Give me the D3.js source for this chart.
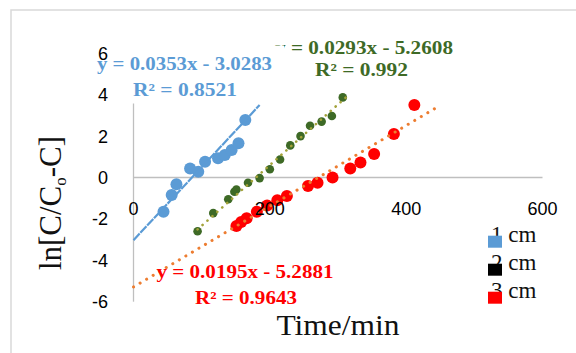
<!DOCTYPE html>
<html>
<head>
<meta charset="utf-8">
<script src="https://cdn.jsdelivr.net/npm/d3@7"></script>
<style>
  html, body { margin: 0; padding: 0; background: #fff; }
  svg { display: block; }
</style>
</head>
<body>
<svg id="chart" width="576" height="353"></svg>
<script>
// Series: time (min) vs ln[C/(Co-C)] for three bed depths
const seriesNames = ["1 cm", "2 cm", "3 cm"];

const t1 = [44, 56, 63, 83, 95, 105, 124, 134, 144, 154, 164];
const v1 = [-1.65, -0.85, -0.33, 0.44, 0.28, 0.76, 0.93, 1.09, 1.33, 1.65, 2.78];

const t2 = [94, 117, 139, 148, 151, 168, 185, 200, 215, 230, 245, 259, 276, 291, 307];
const v2 = [-2.6, -1.72, -1.05, -0.69, -0.58, -0.25, -0.03, 0.4, 0.87, 1.55, 2.0, 2.5, 2.7, 2.97, 3.87];

const t3 = [151, 158, 166, 181, 196, 211, 225, 256, 270, 292, 318, 333, 353, 382, 412];
const v3 = [-2.34, -2.15, -1.97, -1.65, -1.35, -1.1, -0.89, -0.41, -0.25, 0.0, 0.44, 0.72, 1.14, 2.1, 3.5];

// Linear fits: slope, intercept, R², and the x-span each trendline covers
const slopes = [0.0353, 0.0293, 0.0195];
const intercepts = [-3.0283, -5.2608, -5.2881];
const r2 = ["0.8521", "0.992", "0.9643"];
const fitFrom = [0, 94, 0];
const fitTo = [185, 312, 443];

const xTicks = [0, 200, 400, 600];
const yTicks = [-6, -4, -2, 0, 2, 4, 6];

const svg = d3.select("#chart");
const x = d3.scaleLinear().domain([0, 600]).range([133.5, 542.5]);
const y = d3.scaleLinear().domain([-6, 6]).range([301.7, 53.3]);

// chart frame
svg.append("rect").attr("x", 11).attr("y", 10).attr("width", 600).attr("height", 400)
  .attr("fill", "none").attr("stroke", "#d9d9d9").attr("stroke-width", 1.5);

// axis lines
svg.append("line").attr("x1", x(0)).attr("x2", x(600)).attr("y1", y(0)).attr("y2", y(0))
  .attr("stroke", "#bfbfbf").attr("stroke-width", 1.3);
svg.append("line").attr("x1", x(0)).attr("x2", x(0)).attr("y1", y(-6)).attr("y2", y(6))
  .attr("stroke", "#bfbfbf").attr("stroke-width", 1.3);

const markerStyles = [
  { fill: "#5b9bd5", r: 6 },
  { fill: "#3e6a26", r: 4.3 },
  { fill: "#ff0000", r: 6 }
];
const fitStyles = [
  { stroke: "#5b9bd5", width: 2.2, dash: "9,1", cap: "butt" },
  { stroke: "#a3a23a", width: 2.6, dash: "0.1,6.5", cap: "round" },
  { stroke: "#ed7d31", width: 3, dash: "0.1,7.5", cap: "round" }
];
const allT = [t1, t2, t3];
const allV = [v1, v2, v3];

allT.forEach((ts, i) => {
  const pts = ts.map((t, k) => [t, allV[i][k]]);
  svg.append("g").selectAll("circle").data(pts).join("circle")
    .attr("cx", d => x(d[0])).attr("cy", d => y(d[1]))
    .attr("r", markerStyles[i].r).attr("fill", markerStyles[i].fill);
});

allT.forEach((ts, i) => {
  const f = fitStyles[i];
  const line = d3.line().x(d => x(d)).y(d => y(slopes[i] * d + intercepts[i]));
  svg.append("path").datum([fitFrom[i], fitTo[i]]).attr("d", line)
    .attr("fill", "none").attr("stroke", f.stroke).attr("stroke-width", f.width)
    .attr("stroke-dasharray", f.dash).attr("stroke-linecap", f.cap);
});

// trendline equations
function eqText(i) {
  const b = intercepts[i];
  return "y = " + slopes[i].toFixed(4) + "x " + (b < 0 ? "- " : "+ ") + Math.abs(b).toFixed(4);
}
const eqFont = "'Liberation Serif', 'Times New Roman', serif";
function eqLabel(i, color, ex, ey, ew, rx, ry, rw) {
  const g = svg.append("g").attr("font-family", eqFont).attr("font-weight", "bold")
    .attr("font-size", 18).attr("fill", color);
  g.append("text").attr("x", ex).attr("y", ey).attr("textLength", ew)
    .attr("lengthAdjust", "spacingAndGlyphs").text(eqText(i));
  g.append("text").attr("x", rx).attr("y", ry).attr("textLength", rw)
    .attr("lengthAdjust", "spacingAndGlyphs").text("R² = " + r2[i]);
  return g;
}
eqLabel(1, "#3e6a26", 275, 53.5, 178, 315, 75.5, 93);
svg.append("rect").attr("x", 92).attr("y", 45.5).attr("width", 192).attr("height", 58).attr("fill", "#fff");
eqLabel(0, "#5b9bd5", 97, 69.5, 175, 133, 95.5, 104);
eqLabel(2, "#ff0000", 156.5, 277.5, 177, 195, 303.5, 102);

// tick labels
const tickFont = "'Liberation Sans', Arial, sans-serif";
svg.append("g").selectAll("text").data(xTicks).join("text")
  .attr("x", d => x(d)).attr("y", 214.5).attr("text-anchor", "middle")
  .attr("font-family", tickFont).attr("font-size", 18).attr("fill", "#000")
  .text(d => d);
svg.append("g").selectAll("text").data(yTicks).join("text")
  .attr("x", 108).attr("y", d => y(d) + 6.5).attr("text-anchor", "end")
  .attr("font-family", tickFont).attr("font-size", 18).attr("fill", "#000")
  .text(d => d);

// axis titles
const titleFont = "'Liberation Serif', 'Times New Roman', serif";
svg.append("text").attr("x", 338).attr("y", 335).attr("text-anchor", "middle")
  .attr("font-family", titleFont).attr("font-size", 30).attr("fill", "#111")
  .attr("textLength", 123).attr("lengthAdjust", "spacingAndGlyphs")
  .text("Time/min");
const yt = svg.append("text").attr("transform", "translate(61,203) rotate(-90)")
  .attr("text-anchor", "middle").attr("font-family", titleFont)
  .attr("font-size", 31).attr("fill", "#111");
yt.append("tspan").text("ln[C/C");
yt.append("tspan").attr("font-size", 17).attr("dy", 5).text("o");
yt.append("tspan").attr("dy", -5).text("-C]");

// legend
const legendColors = ["#5b9bd5", "#000000", "#ff0000"];
const lg = svg.append("g");
seriesNames.forEach((name, i) => {
  const by = 241.7 + i * 28;
  lg.append("text").attr("x", 491).attr("y", by).attr("font-family", titleFont)
    .attr("font-size", 23).attr("fill", "#111").text(name);
  lg.append("rect").attr("x", 488).attr("y", by - 6).attr("width", 14).attr("height", 12)
    .attr("fill", legendColors[i]);
});
</script>
</body>
</html>
